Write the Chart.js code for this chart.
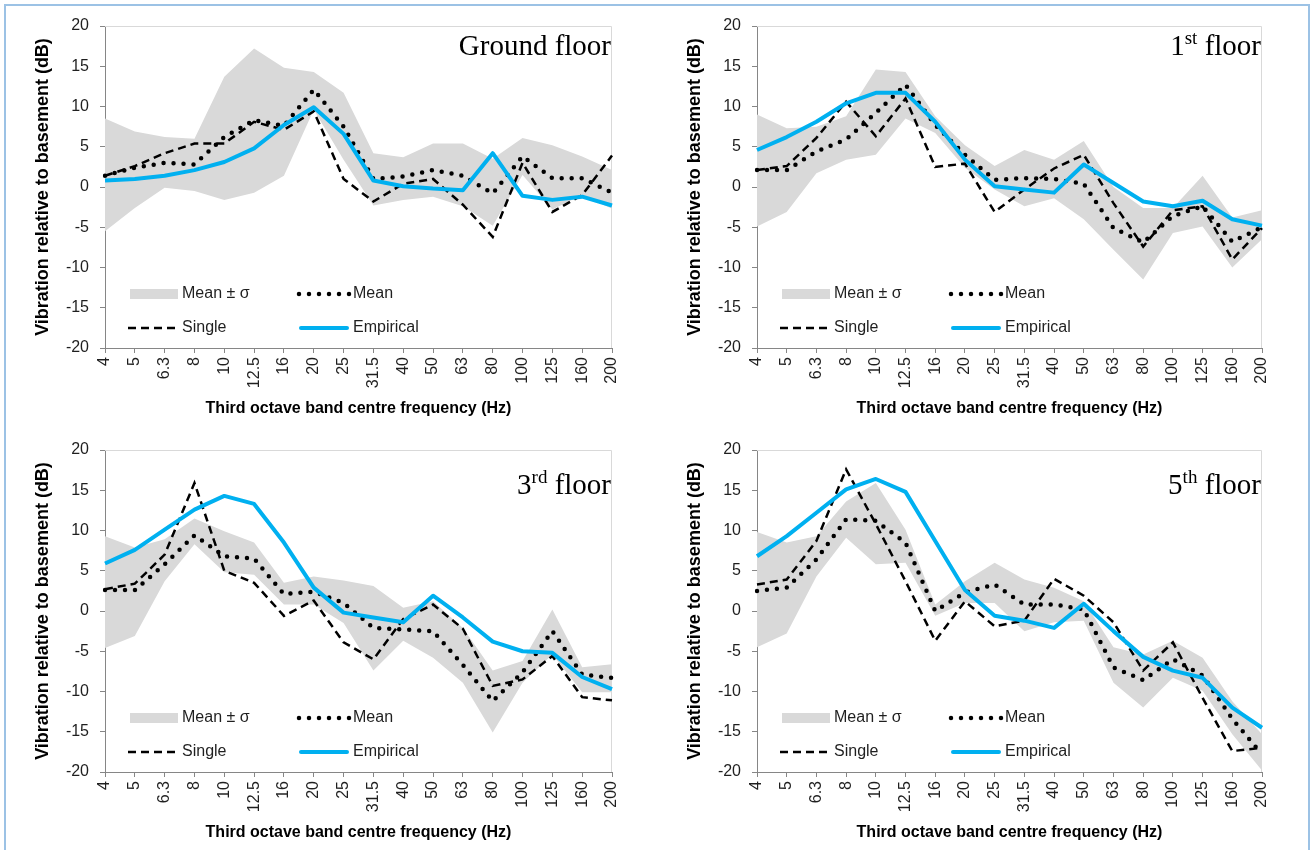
<!DOCTYPE html>
<html>
<head>
<meta charset="utf-8">
<title>Vibration relative to basement</title>
<script src="https://cdn.jsdelivr.net/npm/chart.js@4.4.1/dist/chart.umd.min.js"></script>
<style>
    html, body { margin: 0; padding: 0; background: #fff; }
    #page { position: relative; width: 1313px; height: 850px; overflow: hidden; }
    #frame { position: absolute; left: 4px; top: 4px; width: 1306px; height: 870px; border: 2px solid #9cc2e5; box-sizing: border-box; }
    .panel { position: absolute; }
</style>
</head>
<body>
<div id="page">
    <div id="frame"></div>
    <canvas id="chart-ground" class="panel" width="652" height="424" style="left:0px;top:0px"></canvas>
    <canvas id="chart-first" class="panel" width="654" height="424" style="left:652px;top:0px"></canvas>
    <canvas id="chart-third" class="panel" width="652" height="424" style="left:0px;top:424px"></canvas>
    <canvas id="chart-fifth" class="panel" width="654" height="424" style="left:652px;top:424px"></canvas>
</div>
<script>
// Third octave band centre frequencies (Hz)
const frequencies = ['4', '5', '6.3', '8', '10', '12.5', '16', '20', '25', '31.5', '40', '50', '63', '80', '100', '125', '160', '200'];
const yTicks = [-20, -15, -10, -5, 0, 5, 10, 15, 20];

// Ground floor (dB)
const groundEmpirical = [0.8, 1.0, 1.4, 2.1, 3.1, 4.8, 7.7, 9.9, 6.6, 0.8, 0.1, -0.2, -0.4, 4.2, -1.1, -1.6, -1.2, -2.3];
const groundMean = [1.4, 2.4, 3.0, 2.8, 6.2, 8.3, 7.6, 12.1, 7.5, 1.0, 1.3, 2.1, 1.4, -0.8, 3.8, 1.1, 1.1, -0.7];
const groundSingle = [1.4, 2.6, 4.2, 5.4, 5.4, 8.1, 7.1, 9.4, 1.0, -1.8, 0.4, 1.0, -2.2, -6.2, 3.0, -3.1, -1.0, 3.9];
const groundUpper = [8.5, 6.9, 6.2, 6.0, 13.7, 17.2, 14.8, 14.3, 11.7, 4.2, 3.7, 5.4, 5.4, 3.5, 6.1, 5.2, 3.8, 2.1];
const groundLower = [-5.5, -2.6, -0.1, -0.5, -1.6, -0.7, 1.4, 9.6, 3.4, -2.3, -1.6, -1.2, -2.4, -4.8, 1.5, -2.8, -1.0, -2.7];

// 1st floor (dB)
const firstEmpirical = [4.6, 6.2, 8.1, 10.4, 11.7, 11.7, 8.1, 3.4, 0.1, -0.3, -0.7, 2.8, 0.5, -1.8, -2.4, -1.7, -4.0, -4.8];
const firstMean = [2.1, 2.1, 4.4, 5.9, 9.2, 12.7, 7.7, 4.0, 0.9, 1.1, 1.0, 0.4, -5.1, -6.9, -3.6, -2.4, -6.8, -5.0];
const firstSingle = [2.1, 2.6, 6.1, 10.6, 6.3, 11.0, 2.5, 2.9, -3.1, -0.3, 2.3, 4.0, -2.0, -7.4, -2.9, -2.4, -9.0, -5.1];
const firstUpper = [9.0, 7.3, 7.5, 8.8, 14.6, 14.3, 8.8, 5.2, 2.6, 4.6, 3.4, 5.7, 0.0, -2.6, -2.6, 1.4, -3.8, -2.9];
const firstLower = [-4.9, -3.1, 1.7, 3.4, 4.0, 8.5, 6.7, 2.4, -0.3, -2.4, -1.4, -4.0, -7.8, -11.5, -5.7, -4.9, -10.0, -6.5];

// 3rd floor (dB)
const thirdEmpirical = [5.9, 7.6, 10.1, 12.6, 14.3, 13.3, 8.5, 2.9, -0.2, -0.8, -1.4, 1.9, -0.8, -3.8, -5.0, -5.2, -8.2, -9.7];
const thirdMean = [2.6, 2.6, 5.8, 9.4, 6.8, 6.5, 2.1, 2.4, 1.0, -2.1, -2.3, -2.5, -6.7, -11.2, -7.6, -2.5, -7.9, -8.3];
const thirdSingle = [2.7, 3.4, 7.0, 15.9, 5.0, 3.5, -0.6, 1.3, -3.9, -6.0, -1.0, 0.8, -2.2, -9.3, -8.5, -5.6, -10.7, -11.1];
const thirdUpper = [9.3, 7.9, 8.9, 11.5, 9.9, 8.5, 3.5, 4.3, 3.8, 3.1, 0.4, 1.2, -2.1, -7.4, -6.2, 0.2, -7.0, -6.6];
const thirdLower = [-4.6, -3.1, 3.7, 8.3, 4.8, 4.5, 0.8, 0.8, -1.5, -7.4, -3.7, -5.8, -8.9, -15.1, -8.9, -5.4, -10.1, -10.1];

// 5th floor (dB)
const fifthEmpirical = [6.8, 9.3, 12.2, 15.1, 16.4, 14.8, 8.7, 2.6, -0.6, -1.2, -2.1, 0.9, -2.5, -5.7, -7.4, -8.3, -12.0, -14.5];
const fifthMean = [2.5, 2.9, 6.4, 11.4, 11.2, 8.5, 0.0, 2.3, 3.3, 0.8, 0.8, 0.2, -7.0, -8.6, -6.0, -8.0, -13.4, -17.8];
const fifthSingle = [3.3, 3.9, 8.7, 17.6, 10.8, 3.7, -3.7, 1.2, -1.9, -1.2, 4.0, 1.9, -1.4, -7.4, -3.9, -10.8, -17.4, -17.0];
const fifthUpper = [9.8, 8.5, 9.3, 13.6, 15.9, 10.1, 0.8, 3.7, 6.0, 3.9, 2.9, 1.2, -4.5, -5.4, -3.7, -5.8, -11.2, -15.3];
const fifthLower = [-4.5, -2.8, 4.3, 9.1, 5.8, 6.0, -0.6, 1.0, 1.0, -2.5, -1.4, -1.2, -8.9, -12.0, -8.3, -9.9, -15.3, -19.8];

const axisGrey = '#868686';
const textColor = '#1f1f1f';
const bandGrey = '#d9d9d9';
const empiricalBlue = '#00b0f0';
const sansFont = "'Liberation Sans', Arial, sans-serif";
const serifFont = "'Liberation Serif', 'Times New Roman', serif";

Chart.defaults.font.family = sansFont;

// Floor name at the top right, with an optional superscript
function drawFloorLabel(chart, opts) {
    const ctx = chart.ctx;
    const area = chart.chartArea;
    const baseline = area.top + opts.labelOffset;
    const parts = [
        { text: opts.label[0], size: 29, rise: 0 },
        { text: opts.label[1], size: 19, rise: 11 },
        { text: opts.label[2], size: 29, rise: 0 }
    ];

    ctx.save();
    ctx.fillStyle = '#000';
    ctx.textBaseline = 'alphabetic';
    ctx.textAlign = 'left';
    let total = 0;
    parts.forEach(p => {
        ctx.font = p.size + 'px ' + serifFont;
        p.width = ctx.measureText(p.text).width;
        total += p.width;
    });
    let x = area.right - 1 - total;
    parts.forEach(p => {
        ctx.font = p.size + 'px ' + serifFont;
        ctx.fillText(p.text, x, baseline - p.rise);
        x += p.width;
    });
    ctx.restore();
}

// Two by two legend inside the bottom of the plot area
function drawLegend(chart) {
    const ctx = chart.ctx;
    const area = chart.chartArea;
    const row1 = area.bottom - 54;
    const row2 = area.bottom - 20;
    const c1 = area.left;

    ctx.save();

    // Mean ± σ swatch
    ctx.fillStyle = bandGrey;
    ctx.fillRect(c1 + 25, row1 - 5, 48, 10);

    // Mean (dots)
    ctx.strokeStyle = '#000';
    ctx.lineWidth = 4.5;
    ctx.lineCap = 'round';
    ctx.setLineDash([0, 10]);
    ctx.beginPath();
    ctx.moveTo(c1 + 194, row1);
    ctx.lineTo(c1 + 245, row1);
    ctx.stroke();

    // Single (dashes)
    ctx.lineWidth = 2.5;
    ctx.lineCap = 'butt';
    ctx.setLineDash([8, 5]);
    ctx.beginPath();
    ctx.moveTo(c1 + 23, row2);
    ctx.lineTo(c1 + 74, row2);
    ctx.stroke();

    // Empirical
    ctx.setLineDash([]);
    ctx.strokeStyle = empiricalBlue;
    ctx.lineWidth = 4;
    ctx.lineCap = 'round';
    ctx.beginPath();
    ctx.moveTo(c1 + 196, row2);
    ctx.lineTo(c1 + 242, row2);
    ctx.stroke();

    ctx.fillStyle = textColor;
    ctx.font = '16px ' + sansFont;
    ctx.textBaseline = 'middle';
    ctx.textAlign = 'left';
    ctx.fillText('Mean ± σ', c1 + 77, row1);
    ctx.fillText('Mean', c1 + 248, row1);
    ctx.fillText('Single', c1 + 77, row2);
    ctx.fillText('Empirical', c1 + 248, row2);
    ctx.restore();
}

const panelDecor = {
    id: 'panelDecor',
    beforeDatasetsDraw(chart) {
        // light grey frame on the top and right of the plot area
        const ctx = chart.ctx;
        const area = chart.chartArea;
        ctx.save();
        ctx.strokeStyle = bandGrey;
        ctx.lineWidth = 1;
        ctx.beginPath();
        ctx.moveTo(area.left, area.top + 0.5);
        ctx.lineTo(area.right - 0.5, area.top + 0.5);
        ctx.lineTo(area.right - 0.5, area.bottom);
        ctx.stroke();
        ctx.restore();
    },
    afterDatasetsDraw(chart, args, opts) {
        drawFloorLabel(chart, opts);
        drawLegend(chart);
    }
};

function buildChart(id, series, label, labelOffset, rightPad) {
    const canvas = document.getElementById(id);
    return new Chart(canvas, {
        type: 'line',
        plugins: [panelDecor],
        data: {
            labels: frequencies,
            datasets: [
                { label: 'Empirical', data: series.empirical, borderColor: empiricalBlue, borderWidth: 4, borderJoinStyle: 'round', pointRadius: 0, fill: false, tension: 0 },
                { label: 'Mean', data: series.mean, borderColor: '#000', borderWidth: 4.5, borderDash: [0, 10], borderCapStyle: 'round', pointRadius: 0, fill: false, tension: 0 },
                { label: 'Single', data: series.single, borderColor: '#000', borderWidth: 2.5, borderDash: [8, 5], pointRadius: 0, fill: false, tension: 0 },
                { label: 'Mean + σ', data: series.upper, borderColor: 'rgba(0,0,0,0)', borderWidth: 0, backgroundColor: bandGrey, pointRadius: 0, fill: '+1', tension: 0 },
                { label: 'Mean - σ', data: series.lower, borderColor: 'rgba(0,0,0,0)', borderWidth: 0, pointRadius: 0, fill: false, tension: 0 }
            ]
        },
        options: {
            responsive: false,
            animation: false,
            events: [],
            layout: { padding: { left: 28, right: rightPad, top: 26, bottom: 2 } },
            plugins: {
                legend: { display: false },
                tooltip: { enabled: false },
                panelDecor: { label: label, labelOffset: labelOffset }
            },
            scales: {
                x: {
                    grid: { drawOnChartArea: false, drawTicks: true, tickLength: 5, color: axisGrey },
                    border: { color: axisGrey },
                    ticks: { autoSkip: false, minRotation: 90, maxRotation: 90, padding: 4, color: textColor, font: { size: 16 } },
                    title: { display: true, text: 'Third octave band centre frequency (Hz)', color: '#000', font: { size: 16, weight: 'bold' } },
                    afterFit(scale) { scale.height = 74; }
                },
                y: {
                    min: yTicks[0],
                    max: yTicks[yTicks.length - 1],
                    grid: { drawOnChartArea: false, drawTicks: true, tickLength: 5, color: axisGrey },
                    border: { color: axisGrey },
                    ticks: { stepSize: yTicks[1] - yTicks[0], padding: 11, color: textColor, font: { size: 16 } },
                    title: { display: true, text: 'Vibration relative to basement (dB)', color: '#000', font: { size: 18, weight: 'bold' }, padding: { top: 4, bottom: 4 } },
                    afterFit(scale) { scale.width = 77; }
                }
            }
        }
    });
}

document.addEventListener('DOMContentLoaded', function() {
    buildChart('chart-ground',
        { empirical: groundEmpirical, mean: groundMean, single: groundSingle, upper: groundUpper, lower: groundLower },
        ['Ground floor', '', ''], 29, 40);
    buildChart('chart-first',
        { empirical: firstEmpirical, mean: firstMean, single: firstSingle, upper: firstUpper, lower: firstLower },
        ['1', 'st', ' floor'], 29, 44);
    buildChart('chart-third',
        { empirical: thirdEmpirical, mean: thirdMean, single: thirdSingle, upper: thirdUpper, lower: thirdLower },
        ['3', 'rd', ' floor'], 44, 40);
    buildChart('chart-fifth',
        { empirical: fifthEmpirical, mean: fifthMean, single: fifthSingle, upper: fifthUpper, lower: fifthLower },
        ['5', 'th', ' floor'], 44, 44);
});
</script>
</body>
</html>
